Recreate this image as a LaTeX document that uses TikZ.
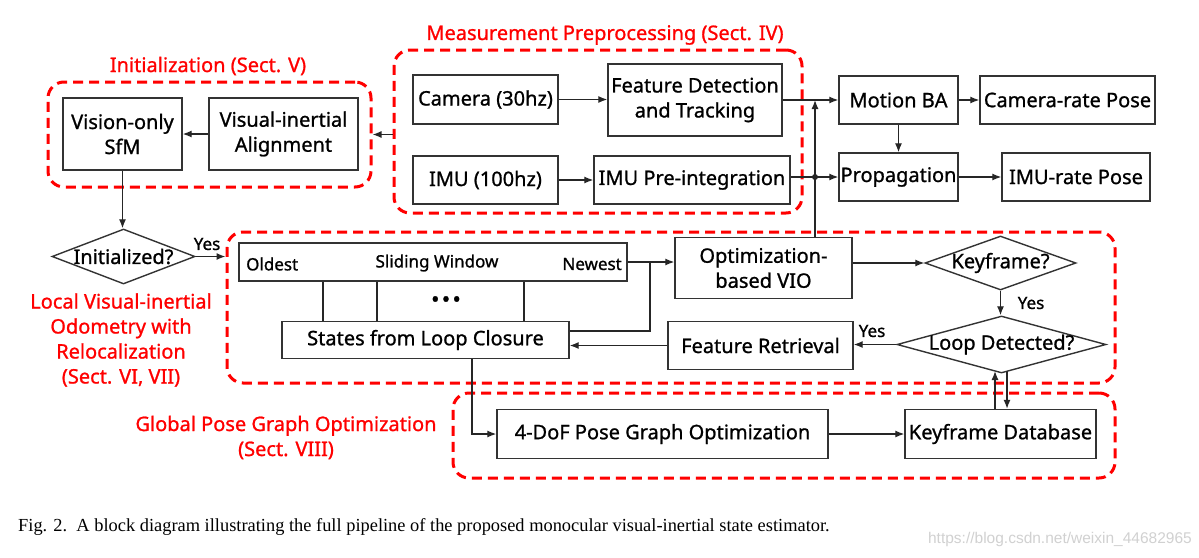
\documentclass[tikz,border=0pt]{standalone}
\usepackage{fontspec}
\setmainfont{Noto Sans}[FakeBold=1.0]
\newfontfamily\capfont{Liberation Serif}
\newfontfamily\wmfont{Liberation Sans}
\usetikzlibrary{arrows.meta,shapes.geometric,calc}
\begin{document}
\begin{tikzpicture}[x=1pt,y=-1pt,
  box/.style={draw=black!80, line width=1.4pt, inner sep=0pt, align=center, font=\fontsize{20}{25}\selectfont},
  dia/.style={draw=black!80, line width=1.4pt, shape=diamond, inner sep=0pt},
  diatext/.style={font=\fontsize{20}{25}\selectfont},
  grp/.style={draw=red, line width=3pt, dash pattern=on 10pt off 6pt, rounded corners=16pt, inner sep=0pt},
  redlbl/.style={text=red, font=\fontsize{20}{25}\selectfont, align=center, inner sep=0pt},
  arr/.style={line width=1.3pt, draw=black!85, -{Latex[length=9pt,width=7pt]}},
  ln/.style={line width=1.3pt, draw=black!85},
  lbl/.style={font=\fontsize{17}{20}\selectfont, inner sep=0pt},
]
\useasboundingbox[fill=white] (0,0) rectangle (1199,557);

% group boxes
\node[grp, minimum width=323pt, minimum height=105pt] (ginit) at (209.5,134.5) {};
\node[grp, minimum width=408pt, minimum height=163pt] (gmeas) at (598,131.5) {};
\node[grp, minimum width=888pt, minimum height=151pt] (glocal) at (671,307.5) {};
\node[grp, minimum width=662pt, minimum height=85pt] (gglob) at (784,435.5) {};

% red labels
\node[redlbl] (tinit) at (208,66) {Initialization (Sect. V)};
\node[redlbl] (tmeas) at (605,35) {Measurement Preprocessing (Sect. IV)};
\node[redlbl] (tlocal) at (121,340) {Local Visual-inertial\\Odometry with\\Relocalization\\(Sect. VI, VII)};
\node[redlbl] (tglob) at (286,437.5) {Global Pose Graph Optimization\\(Sect. VIII)};

% boxes
\node[box, minimum width=119pt, minimum height=72pt] (sfm) at (122.5,134) {Vision-only\\SfM};
\node[box, minimum width=149pt, minimum height=72pt] (via) at (283.5,134) {Visual-inertial\\Alignment};
\node[box, minimum width=145pt, minimum height=49pt] (cam) at (485.5,99.5) {Camera (30hz)};
\node[box, minimum width=174pt, minimum height=72pt] (fdt) at (695,100) {Feature Detection\\and Tracking};
\node[box, minimum width=145pt, minimum height=48pt] (imu) at (485.5,180) {IMU (100hz)};
\node[box, minimum width=196pt, minimum height=48pt] (pre) at (692,180) {IMU Pre-integration};
\node[box, minimum width=119pt, minimum height=48pt] (mba) at (898.5,100) {Motion BA};
\node[box, minimum width=175pt, minimum height=48pt] (cpose) at (1067.5,100) {Camera-rate Pose};
\node[box, minimum width=119pt, minimum height=48pt] (prop) at (898.5,177) {Propagation};
\node[box, minimum width=148pt, minimum height=48pt] (ipose) at (1076,177) {IMU-rate Pose};

\node[dia, minimum width=143pt, minimum height=55pt, label={[diatext]center:Initialized?}] (initd) at (123.5,256.5) {};

\node[box, minimum width=388pt, minimum height=38pt] (sw) at (433,262) {};
\node[lbl, anchor=west] (old) at (246,264) {Oldest};
\node[lbl] (swt) at (437,263) {Sliding Window};
\node[lbl, anchor=east] (new) at (622,264) {Newest};
\node[inner sep=0pt, font=\bfseries\fontsize{40}{40}\selectfont] (dots) at (446,299) {...};
\node[box, minimum width=287pt, minimum height=37pt] (states) at (425.5,340) {States from Loop Closure};

\node[box, minimum width=177pt, minimum height=61pt] (vio) at (763.5,268) {Optimization-\\based VIO};
\node[dia, minimum width=151pt, minimum height=54pt, label={[diatext]center:Keyframe?}] (kf) at (1000.5,263) {};
\node[box, minimum width=185pt, minimum height=48pt] (fr) at (760.5,345.5) {Feature Retrieval};
\node[dia, minimum width=209pt, minimum height=57pt, label={[diatext]center:Loop Detected?}] (ld) at (1001.5,344.5) {};

\node[box, minimum width=331pt, minimum height=49pt] (dof) at (662.5,434) {4-DoF Pose Graph Optimization};
\node[box, minimum width=191pt, minimum height=49pt] (kfdb) at (1000.5,434) {Keyframe Database};

% yes labels
\node[lbl] (y1) at (207,244) {Yes};
\node[lbl] (y2) at (1031,303) {Yes};
\node[lbl] (y3) at (872,331) {Yes};

% junction coordinates
\coordinate (jmba) at (815,100);
\coordinate (jprop) at (815,177);
\coordinate (jsw) at (650,262);
\coordinate (cst) at (650,331);

% connectors
\draw[arr] (via.west) -- (sfm.east);
\draw[arr] (ginit.east -| gmeas.west) -- (ginit.east);
\draw[arr] (sfm.south) -- (sfm.south |- initd.north);
\draw[arr] (initd.east) -- (initd.east -| glocal.west);
\draw[arr] (cam.east) -- (cam.east -| fdt.west);
\draw[arr] (imu.east) -- (pre.west);
\draw[arr] (fdt.east |- mba.west) -- (mba.west);
\draw[arr] (pre.east |- prop.west) -- (prop.west);
\draw[arr] (mba.south) -- (prop.north);
\draw[arr] (mba.east) -- (cpose.west);
\draw[arr] (prop.east) -- (ipose.west);
\draw[arr] (vio.north -| jprop) -- (jprop) -- (jmba);
\fill[black!85] (jprop) circle (3pt);

\draw[arr] (sw.east) -- (sw.east -| vio.west);
\draw[ln] (cst -| states.east) -- (cst) -- (jsw);
\draw[ln] (sw.south -| 323,0) -- (states.north -| 323,0);
\draw[ln] (sw.south -| 377,0) -- (states.north -| 377,0);
\draw[ln] (sw.south -| 524,0) -- (states.north -| 524,0);

\draw[arr] (vio.east |- kf.west) -- (kf.west);
\draw[arr] (kf.south) -- (kf.south |- ld.north);
\draw[arr] (ld.west) -- (ld.west -| fr.east);
\draw[arr] (fr.west) -- (fr.west -| states.east);
\draw[arr] (states.south -| 472,0) |- (dof.west);
\draw[arr] (dof.east |- kfdb.west) -- (kfdb.west);
\draw[arr] (kfdb.north -| 995,0) -- (995,371);
\draw[arr] (1007,371) -- (kfdb.north -| 1007,0);

% caption
\node[anchor=base west, inner sep=0pt, font=\capfont\fontsize{18.4}{22}\selectfont] (cap) at (18,531) {Fig. 2.\ \ A block diagram illustrating the full pipeline of the proposed monocular visual-inertial state estimator.};
\node[anchor=base east, inner sep=0pt, text=black!18, font=\wmfont\fontsize{15.5}{18}\selectfont] (wm) at (1192,543) {https://blog.csdn.net/weixin\_44682965};
\end{tikzpicture}
\end{document}
